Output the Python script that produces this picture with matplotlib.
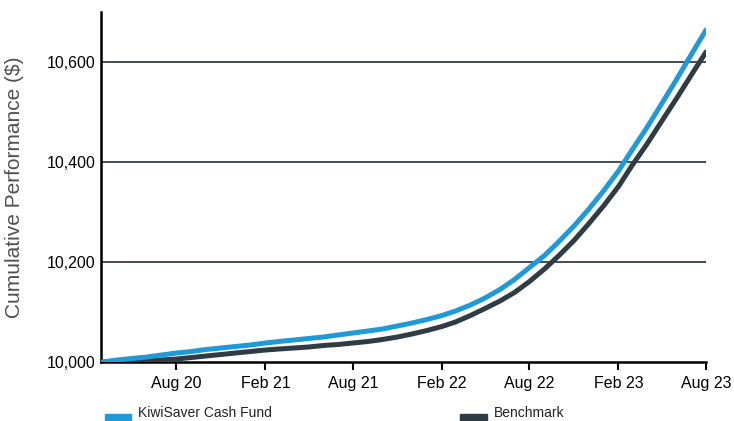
import matplotlib
matplotlib.use('Agg')
import matplotlib.pyplot as plt
import matplotlib.dates as mdates
from matplotlib.patches import Rectangle
import pandas as pd

plt.rcParams['font.family'] = ['Liberation Sans', 'DejaVu Sans']

# monthly values, Mar 2020 -> Aug 2023
dates = pd.date_range('2020-03-01', '2023-08-01', freq='MS')
fund = [10000, 10004, 10007, 10010, 10014, 10018, 10021, 10025, 10028, 10031,
        10034, 10038, 10041, 10044, 10047, 10050, 10054, 10058, 10062, 10066,
        10072, 10078, 10085, 10093, 10102, 10114, 10128, 10145, 10165, 10189,
        10213, 10241, 10272, 10305, 10342, 10382, 10424, 10469, 10516, 10565,
        10614, 10664]
benchmark = [10000, 10000, 10001, 10002, 10004, 10006, 10009, 10012, 10015, 10018,
             10021, 10024, 10026, 10028, 10030, 10033, 10035, 10038, 10041, 10045,
             10050, 10056, 10063, 10071, 10080, 10093, 10107, 10122, 10139, 10161,
             10186, 10213, 10243, 10276, 10312, 10351, 10393, 10436, 10481, 10527,
             10573, 10620]
tick_dates = pd.to_datetime(['2020-08-01', '2021-02-01', '2021-08-01', '2022-02-01',
                             '2022-08-01', '2023-02-01', '2023-08-01'])
y_ticks = [10000, 10200, 10400, 10600]

fund_color = '#1f9ad7'
bench_color = '#303c43'

fig = plt.figure(figsize=(7.34, 4.21), dpi=100)
ax = fig.add_axes([101 / 734, 1 - 362 / 421, (706 - 101) / 734, (362 - 12) / 421])

ax.plot(dates, benchmark, color=bench_color, lw=3.6, solid_capstyle='round', zorder=3)
ax.plot(dates, fund, color=fund_color, lw=3.6, solid_capstyle='round', zorder=4)

ax.set_xlim(pd.Timestamp('2020-02-27'), pd.Timestamp('2023-08-01'))
ax.set_ylim(10000, 10700)
ax.set_yticks(y_ticks)
ax.set_yticklabels([f'{v:,}' for v in y_ticks], fontsize=11.5)
ax.set_xticks(tick_dates)
ax.xaxis.set_major_formatter(mdates.DateFormatter('%b %y'))
ax.tick_params(axis='x', labelsize=11.5, length=6, width=1.5, direction='out', pad=4)
ax.tick_params(axis='y', length=0, pad=4)

for v in y_ticks[1:]:
    ax.axhline(v, color='#333e44', lw=1.3, zorder=1)

for side in ['top', 'right']:
    ax.spines[side].set_visible(False)
for side in ['left', 'bottom']:
    ax.spines[side].set_linewidth(1.8)
    ax.spines[side].set_color('black')
    ax.spines[side].set_zorder(2)

ax.set_ylabel('Cumulative Performance ($)', fontsize=15, color='#505050')
ax.yaxis.set_label_coords(-0.127, 0.5)

# legend along the bottom edge
fig.patches.append(Rectangle((105 / 734, 0), 26 / 734, 7 / 421, transform=fig.transFigure,
                             color=fund_color))
fig.patches.append(Rectangle((460 / 734, 0), 27 / 734, 7 / 421, transform=fig.transFigure,
                             color=bench_color))
fig.text(138 / 734, 4 / 421, 'KiwiSaver Cash Fund', fontsize=10, color='#222222', va='baseline')
fig.text(494 / 734, 4 / 421, 'Benchmark', fontsize=10, color='#222222', va='baseline')

fig.savefig('out.png', dpi=100)
